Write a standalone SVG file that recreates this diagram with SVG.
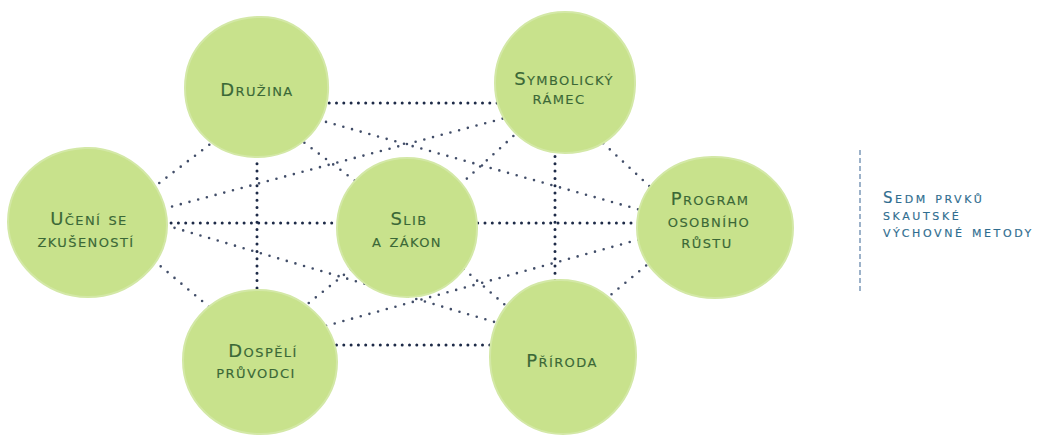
<svg xmlns="http://www.w3.org/2000/svg" width="1039" height="436" viewBox="0 0 1039 436">
<style>
.bg{fill:#ffffff}
.blob{fill:#c8e28c;stroke:#d3e8a6;stroke-width:2}
.lbl{font-family:"DejaVu Sans",sans-serif;font-size:18px;font-variant:small-caps;fill:#3b6837;stroke:#3b6837;stroke-width:0.15;text-anchor:middle;letter-spacing:1.4px}
.main{stroke:#1d2a47;stroke-width:3;stroke-linecap:round;stroke-dasharray:0 7.3;fill:none}
.diag{stroke:#2c3a58;stroke-width:2.6;stroke-linecap:round;stroke-dasharray:0 9;fill:none;opacity:0.9}
.leg{font-family:"DejaVu Sans",sans-serif;font-size:15px;font-variant:small-caps;fill:#2f6d8f;stroke:#2f6d8f;stroke-width:0.15;letter-spacing:2.6px}
.legline{stroke:#5b7fa6;stroke-width:1.2;stroke-dasharray:5 3;fill:none}
</style>
<rect class="bg" x="0" y="0" width="1039" height="436"/>
<g id="connectors">
  <line class="main" x1="300" y1="103" x2="520" y2="103"/>
  <line class="main" x1="120" y1="223" x2="680" y2="223"/>
  <line class="main" x1="300" y1="345" x2="530" y2="345"/>
  <line class="main" x1="257" y1="120" x2="257" y2="320"/>
  <line class="main" x1="555" y1="120" x2="555" y2="320"/>
  <line class="diag" x1="300" y1="114.6" x2="660" y2="215.4"/>
  <line class="diag" x1="520" y1="114" x2="140" y2="215"/>
  <line class="diag" x1="300" y1="333" x2="660" y2="233.7"/>
  <line class="diag" x1="140" y1="217.7" x2="520" y2="329.5"/>
  <line class="diag" x1="290" y1="132" x2="370" y2="192"/>
  <line class="diag" x1="520" y1="130" x2="450" y2="194"/>
  <line class="diag" x1="365" y1="258" x2="300" y2="310"/>
  <line class="diag" x1="450" y1="257" x2="520" y2="318"/>
  <line class="diag" x1="590" y1="131" x2="660" y2="196"/>
  <line class="diag" x1="660" y1="254" x2="595" y2="308"/>
  <line class="diag" x1="140" y1="249" x2="220" y2="316"/>
  <line class="diag" x1="145" y1="194" x2="222" y2="135"/>
</g>
<g id="druzina">
  <path class="blob" d="M257 17 C300 15 330 50 328 92 C326 130 295 158 255 157 C215 156 185 128 185 88 C185 48 215 19 257 17 Z"/>
  <text class="lbl" x="257" y="96">Družina</text>
</g>
<g id="symbolicky-ramec">
  <path class="blob" d="M565 12 C605 12 636 45 635 85 C634 125 605 153 565 153 C525 153 495 122 495 83 C495 44 525 12 565 12 Z"/>
  <text class="lbl" x="564" y="85">Symbolický</text>
  <text class="lbl" x="559" y="104">rámec</text>
</g>
<g id="uceni-se-zkusenosti">
  <path class="blob" d="M85 148 C130 146 167 185 167 225 C167 265 130 297 88 297 C45 297 8 262 8 222 C8 182 40 150 85 148 Z"/>
  <text class="lbl" x="89" y="225">Učení se</text>
  <text class="lbl" x="86" y="247">zkušeností</text>
</g>
<g id="slib-a-zakon">
  <path class="blob" d="M407 158 C446 158 477 189 477 228 C477 267 446 297 407 297 C368 297 337 267 337 228 C337 189 368 158 407 158 Z"/>
  <text class="lbl" x="409" y="225">Slib</text>
  <text class="lbl" x="407" y="247">a zákon</text>
</g>
<g id="program-osobniho-rustu">
  <path class="blob" d="M712 157 C760 156 793 190 793 228 C793 268 760 298 715 298 C672 298 637 266 637 228 C637 188 668 158 712 157 Z"/>
  <text class="lbl" x="710" y="205">Program</text>
  <text class="lbl" x="709" y="227">osobního</text>
  <text class="lbl" x="707" y="248">růstu</text>
</g>
<g id="dospeli-pruvodci">
  <path class="blob" d="M258 290 C303 290 337 325 337 362 C337 402 303 434 260 434 C215 434 183 400 183 360 C183 322 215 290 258 290 Z"/>
  <text class="lbl" x="263" y="357">Dospělí</text>
  <text class="lbl" x="256" y="378">průvodci</text>
</g>
<g id="priroda">
  <path class="blob" d="M560 280 C603 280 637 315 636 357 C635 400 603 434 563 434 C522 434 490 400 490 357 C490 315 518 280 560 280 Z"/>
  <text class="lbl" x="562" y="367">Příroda</text>
</g>
<g id="legend">
  <line class="legline" x1="860" y1="150" x2="860" y2="294"/>
  <text class="leg" x="883" y="203">Sedm prvků</text>
  <text class="leg" x="883" y="220">skautské</text>
  <text class="leg" x="883" y="237">výchovné metody</text>
</g>
</svg>
